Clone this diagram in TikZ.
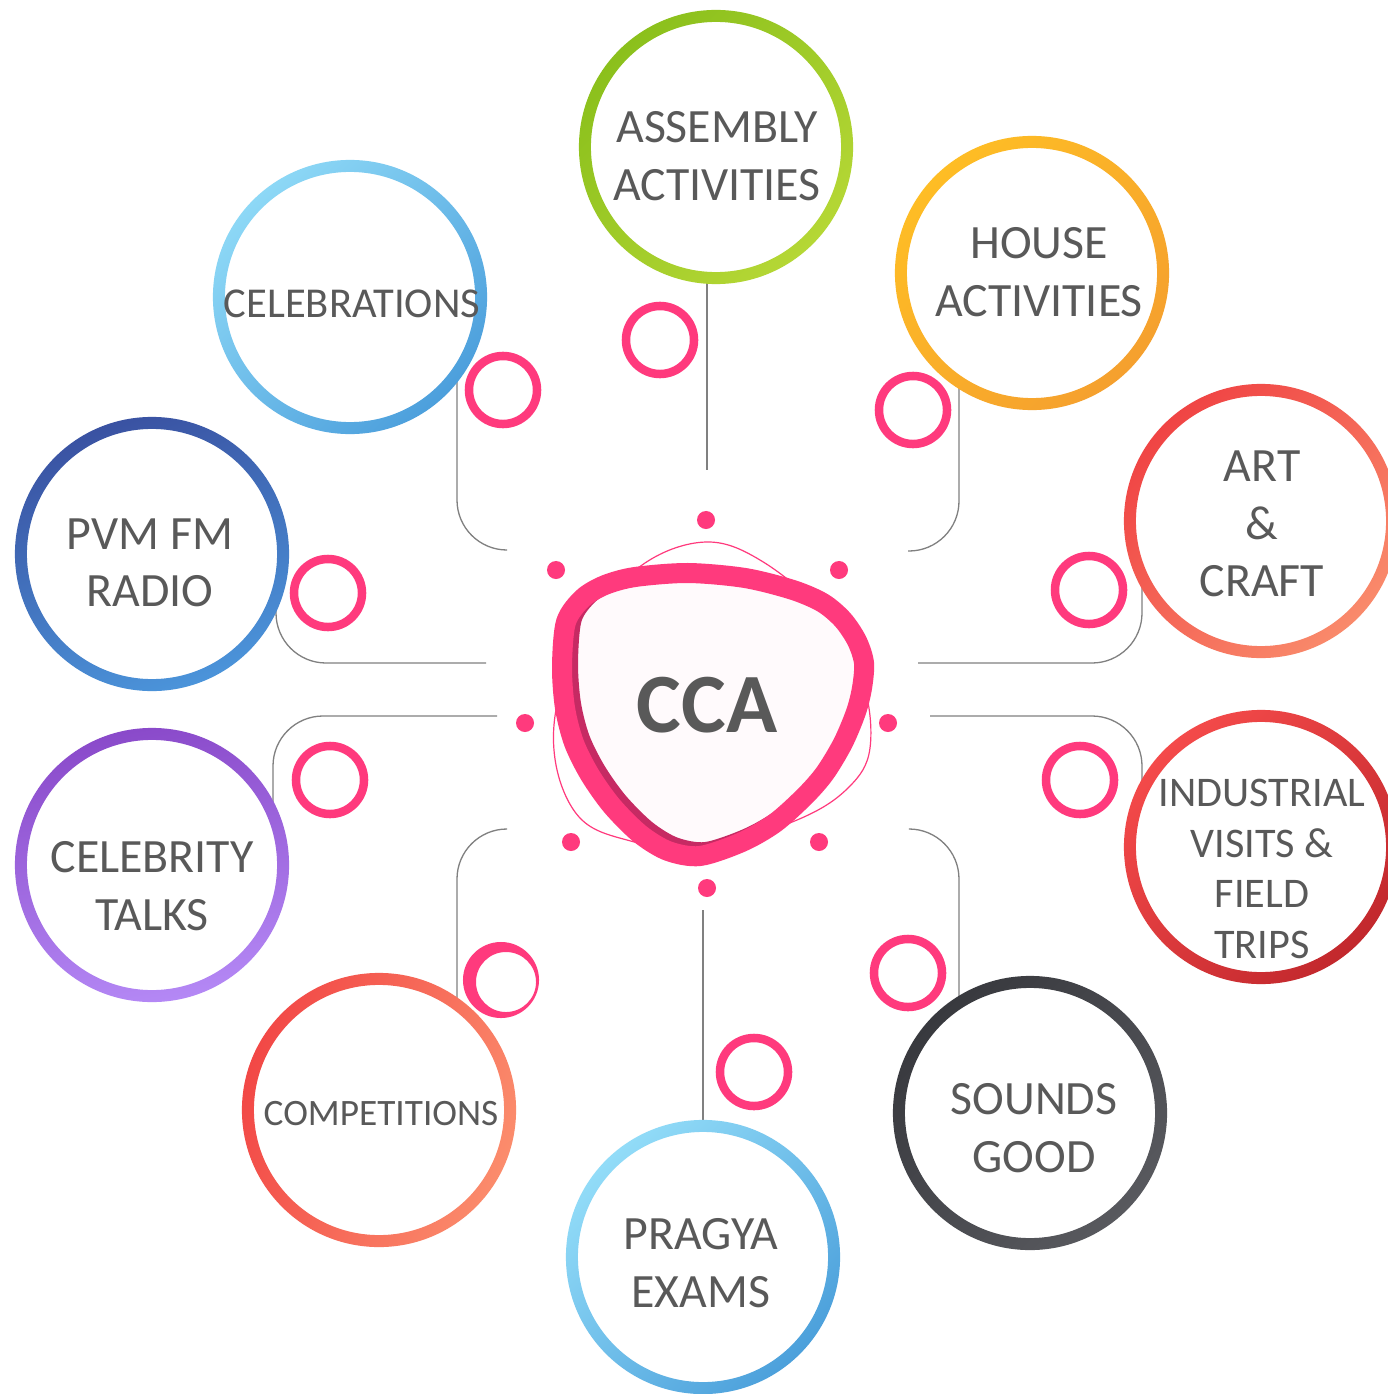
\documentclass[tikz,border=0pt]{standalone}
\usepackage{fontspec}
\setmainfont{Carlito}
\usepackage{tikz}
\usetikzlibrary{calc,positioning,shapes.geometric}
\definecolor{ccapink}{HTML}{FF3A7D}
\definecolor{ccadark}{HTML}{C62A63}
\definecolor{ccafill}{HTML}{FFFAFC}
\definecolor{ccatext}{HTML}{595959}
\definecolor{linkgray}{HTML}{808080}
\definecolor{celebrationsA}{HTML}{8DD8F6}
\definecolor{celebrationsB}{HTML}{4C9FDC}
\definecolor{assemblyA}{HTML}{8BC01C}
\definecolor{assemblyB}{HTML}{B5D735}
\definecolor{houseA}{HTML}{FEBD25}
\definecolor{houseB}{HTML}{F5A02E}
\definecolor{artA}{HTML}{F04444}
\definecolor{artB}{HTML}{F98A6B}
\definecolor{industrialA}{HTML}{F44A4A}
\definecolor{industrialB}{HTML}{C2282D}
\definecolor{soundsA}{HTML}{38393E}
\definecolor{soundsB}{HTML}{58595E}
\definecolor{pragyaA}{HTML}{92DCF8}
\definecolor{pragyaB}{HTML}{4CA0DB}
\definecolor{competitionsA}{HTML}{F24846}
\definecolor{competitionsB}{HTML}{FB8C6C}
\definecolor{celebrityA}{HTML}{8A4ACA}
\definecolor{celebrityB}{HTML}{B488F5}
\definecolor{radioA}{HTML}{3A52A2}
\definecolor{radioB}{HTML}{4B94DA}
\tikzset{
    topic/.style={
      align=center,
      text=ccatext,
      inner sep=0pt,
      font=\fontsize{13.6}{16.3}\selectfont},
    smalltopic/.style={topic, font=\fontsize{12.1}{14}\selectfont},
    link/.style={draw=linkgray, line width=0.13mm, rounded corners=5mm},
    bubble/.style={
      circle,
      draw=ccapink, line width=0.85mm,
      minimum size=6.8mm,
      inner sep=0pt},
    spot/.style={circle, fill=ccapink, minimum size=1.8mm, inner sep=0pt},
    blobline/.style={line width=2mm, line join=round},
}
\newcommand{\topicring}[4]{%
  \shade[even odd rule, top color=#2, bottom color=#3, shading angle=#4]
    (#1) circle (1.37cm) (#1) circle (1.25cm);}
\newcommand{\ccablob}{plot[smooth cycle, tension=0.5] coordinates {(562,667) (566,622) (583,598) (605,585) (635,577) (688,573) (745,578) (793,590) (823,603) (843,620) (857,641) (864,663) (862,688) (856,712) (843,743) (825,773) (805,796) (775,823) (742,842) (700,856) (668,851) (640,834) (612,806) (590,775) (574,743) (565,708)}}

\begin{document}
\begin{tikzpicture}[x=0.01cm, y=-0.01cm]
  \useasboundingbox[fill=white] (0,0) rectangle (1388,1394);

  % connectors
  \coordinate (assemblyLinkA) at (707,280);
  \coordinate (assemblyLinkB) at (707,470);
  \coordinate (pragyaLinkA) at (703,910);
  \coordinate (pragyaLinkB) at (703,1125);
  \coordinate (celebrationsLinkA) at (457,380);
  \coordinate (celebrationsLinkB) at (507,550);
  \coordinate (houseLinkA) at (959,385);
  \coordinate (houseLinkB) at (908,551);
  \coordinate (artLinkA) at (1142,585);
  \coordinate (artLinkB) at (918,663);
  \coordinate (radioLinkA) at (276,608);
  \coordinate (radioLinkB) at (486,663);
  \coordinate (celebrityLinkA) at (497,716);
  \coordinate (celebrityLinkB) at (273,805);
  \coordinate (industrialLinkA) at (930,716);
  \coordinate (industrialLinkB) at (1142,784);
  \coordinate (competitionsLinkA) at (507,829);
  \coordinate (competitionsLinkB) at (457,1002);
  \coordinate (soundsLinkA) at (909,829);
  \coordinate (soundsLinkB) at (959,1000);
  \draw[link] (assemblyLinkA) -- (assemblyLinkB);
  \draw[link] (pragyaLinkA) -- (pragyaLinkB);
  \draw[link] (celebrationsLinkA) |- (celebrationsLinkB);
  \draw[link] (houseLinkA) |- (houseLinkB);
  \draw[link] (artLinkA) |- (artLinkB);
  \draw[link] (radioLinkA) |- (radioLinkB);
  \draw[link] (celebrityLinkA) -| (celebrityLinkB);
  \draw[link] (industrialLinkA) -| (industrialLinkB);
  \draw[link] (competitionsLinkA) -| (competitionsLinkB);
  \draw[link] (soundsLinkA) -| (soundsLinkB);

  % topic rings
  \topicring{350,297}{celebrationsA}{celebrationsB}{45}
  \topicring{716,147}{assemblyA}{assemblyB}{45}
  \topicring{1032,273}{houseA}{houseB}{45}
  \topicring{1261,521}{artA}{artB}{45}
  \topicring{1261,847}{industrialA}{industrialB}{45}
  \topicring{1030,1113}{soundsA}{soundsB}{45}
  \topicring{703,1257}{pragyaA}{pragyaB}{45}
  \topicring{379,1110}{competitionsA}{competitionsB}{70}
  \topicring{152,865}{celebrityA}{celebrityB}{10}
  \topicring{152,554}{radioA}{radioB}{20}

  \node[topic] (assembly) at (717,156) {ASSEMBLY\\ACTIVITIES};
  \node[topic] (house) at (1039,272) {HOUSE\\ACTIVITIES};
  \node[topic] (art) at (1262,524) {ART\\\&\\CRAFT};
  \node[topic, font=\fontsize{12}{14.4}\selectfont] (industrial) at (1262,869) {INDUSTRIAL\\VISITS \&\\FIELD\\TRIPS};
  \node[topic] (sounds) at (1034,1128) {SOUNDS\\GOOD};
  \node[topic] (pragya) at (701,1263) {PRAGYA\\EXAMS};
  \node[smalltopic, font=\fontsize{10.6}{13}\selectfont] (competitions) at (381,1114) {COMPETITIONS};
  \node[topic] (celebrity) at (152,886) {CELEBRITY\\TALKS};
  \node[topic] (radio) at (150,563) {PVM FM\\RADIO};
  \node[smalltopic] (celebrations) at (352,304) {CELEBRATIONS};

  % small pink rings
  \node[bubble] (celebrationsBubble) at (503,390) {};
  \node[bubble] (assemblyBubble) at (660,340) {};
  \node[bubble] (houseBubble) at (913,410) {};
  \node[bubble] (artBubble) at (1089,590) {};
  \node[bubble] (radioBubble) at (328,593) {};
  \node[bubble] (celebrityBubble) at (330,780) {};
  \node[bubble] (industrialBubble) at (1080,780) {};
  \node[bubble] (soundsBubble) at (908,973) {};
  \node[bubble] (pragyaBubble) at (754,1072) {};
  \fill[ccapink, even odd rule] (501,980) circle (0.38cm) (506,982) circle (0.3cm);

  % centre
  \draw[ccapink, line width=0.12mm] plot[smooth cycle, tension=0.6] coordinates {(706,542) (760,560) (820,610) (862,680) (870,748) (848,788) (797,820) (700,850) (627,840) (580,818) (556,765) (558,700) (590,620) (645,563)};
  \fill[ccafill] \ccablob;
  \begin{scope}
    \clip \ccablob;
    \draw[ccadark, blobline, shift={(6,-4)}] \ccablob;
  \end{scope}
  \draw[ccapink, blobline] \ccablob;
  \node[text=ccatext, font=\fontsize{24}{28}\selectfont\bfseries, inner sep=0pt] (cca) at (707,705) {CCA};

  \foreach \p [count=\i] in {{706,520},{556,570},{839,570},{525,723},{888,723},{571,842},{819,842},{707,888}}
    \node[spot] (spot\i) at (\p) {};
\end{tikzpicture}
\end{document}
